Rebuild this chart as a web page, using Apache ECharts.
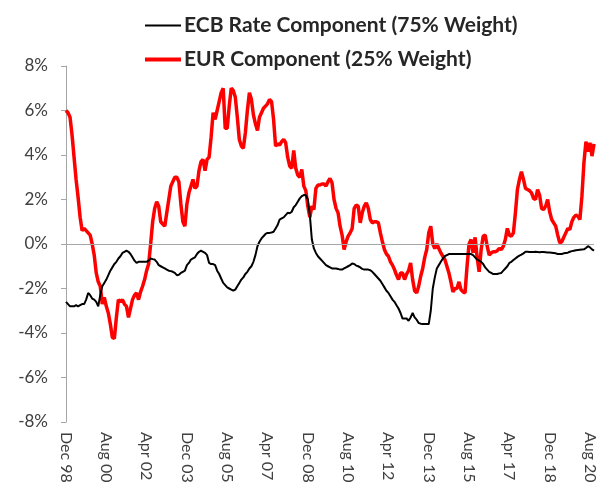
<!DOCTYPE html>
<html>
<head>
<meta charset="utf-8">
<script src="https://cdn.jsdelivr.net/npm/echarts@6/dist/echarts.min.js"></script>
<style>
  html, body { margin: 0; padding: 0; background: #fff; }
  #chart { width: 603px; height: 497px; }
</style>
</head>
<body>
<div id="chart"></div>
<script>
// monthly series, Dec 1998 .. Oct 2020 (values in %)
const seriesNames = ['ECB Rate Component (75% Weight)', 'EUR Component (25% Weight)']

const ecbRate = [
  -2.6, -2.7, -2.8, -2.8, -2.8, -2.75, -2.8, -2.75, -2.7, -2.7,
  -2.5, -2.2, -2.3, -2.45, -2.5, -2.6, -2.8, -2.3, -1.9, -1.75,
  -1.6, -1.4, -1.2, -1.05, -0.9, -0.8, -0.65, -0.55, -0.4, -0.35,
  -0.3, -0.35, -0.45, -0.6, -0.75, -0.85, -0.8, -0.8, -0.8, -0.8,
  -0.8, -0.75, -0.65, -0.68, -0.7, -0.8, -0.95, -1.0, -1.05, -1.1,
  -1.15, -1.2, -1.22, -1.25, -1.3, -1.4, -1.38, -1.3, -1.25, -1.2,
  -0.95, -0.85, -0.7, -0.65, -0.6, -0.45, -0.35, -0.3, -0.35, -0.4,
  -0.5, -0.85, -0.9, -0.9, -0.95, -1.2, -1.35, -1.55, -1.75, -1.85,
  -1.95, -2.0, -2.05, -2.1, -2.05, -1.9, -1.75, -1.6, -1.5, -1.35,
  -1.25, -1.1, -1.0, -0.8, -0.5, -0.1, 0.1, 0.25, 0.35, 0.45,
  0.5, 0.5, 0.52, 0.55, 0.7, 0.85, 1.1, 1.15, 1.2, 1.3,
  1.4, 1.38, 1.45, 1.65, 1.75, 1.9, 2.05, 2.15, 2.2, 2.2,
  2.0, 1.3, 0.2, -0.2, -0.4, -0.55, -0.65, -0.75, -0.85, -0.95,
  -1.0, -1.05, -1.1, -1.1, -1.1, -1.12, -1.15, -1.15, -1.1, -1.05,
  -1.0, -0.95, -0.88, -0.9, -0.97, -1.0, -1.05, -1.12, -1.15, -1.15,
  -1.15, -1.18, -1.25, -1.35, -1.45, -1.55, -1.65, -1.8, -1.95, -2.1,
  -2.2, -2.35, -2.5, -2.6, -2.75, -2.9, -3.1, -3.35, -3.35, -3.35,
  -3.45, -3.3, -3.1, -3.3, -3.4, -3.55, -3.58, -3.6, -3.6, -3.6,
  -3.6, -3.0, -2.0, -1.5, -1.1, -0.95, -0.8, -0.65, -0.55, -0.5,
  -0.45, -0.45, -0.45, -0.45, -0.45, -0.45, -0.45, -0.45, -0.45, -0.45,
  -0.45, -0.45, -0.5, -0.6, -0.7, -0.75, -0.8, -0.9, -1.05, -1.15,
  -1.25, -1.3, -1.35, -1.35, -1.35, -1.32, -1.3, -1.2, -1.1, -1.0,
  -0.85, -0.8, -0.72, -0.65, -0.58, -0.52, -0.48, -0.42, -0.35, -0.35,
  -0.36, -0.36, -0.36, -0.35, -0.36, -0.37, -0.36, -0.36, -0.37, -0.38,
  -0.38, -0.39, -0.4, -0.42, -0.45, -0.45, -0.45, -0.42, -0.4, -0.39,
  -0.35, -0.32, -0.3, -0.28, -0.27, -0.26, -0.25, -0.24, -0.18, -0.1,
  -0.15, -0.24, -0.3
]

const eurComp = [
  6.0, 5.9, 5.7, 4.9, 3.9, 2.9, 2.1, 1.2, 0.6, 0.7,
  0.6, 0.5, 0.4, 0.0, -0.5, -1.3, -1.7, -1.9, -2.7, -2.4,
  -2.8, -3.1, -3.6, -4.2, -4.25, -3.3, -2.5, -2.6, -2.5, -2.7,
  -2.8, -3.3, -2.9, -2.5, -2.3, -2.2, -2.5, -2.15, -1.9, -1.6,
  -1.2, -0.9, 0.0, 1.0, 1.6, 1.9, 1.7, 1.0, 0.9, 0.8,
  1.4, 2.0, 2.6, 2.8, 3.0, 3.0, 2.8, 1.8, 1.0, 0.8,
  1.8, 2.3, 2.6, 2.9, 2.5, 2.6, 3.3, 3.7, 3.8, 3.3,
  3.8, 3.9, 4.8, 5.9, 5.6, 6.0, 6.4, 6.8, 7.0, 5.2,
  5.2, 6.2, 7.0, 6.9, 6.6, 5.7, 4.7, 4.4, 4.3, 5.0,
  6.0, 6.8, 6.5, 5.8, 5.4, 5.1, 5.7, 5.9, 6.1, 6.2,
  6.3, 6.5, 6.4, 5.6, 4.4, 4.5, 4.45, 4.6, 4.7, 4.55,
  3.9, 3.5, 3.4, 4.2, 3.4, 3.1, 3.0, 3.35, 2.6, 2.4,
  1.7, 1.2, 1.7, 1.55, 2.5, 2.65, 2.65, 2.7, 2.7, 2.6,
  2.8, 2.95, 2.75, 2.0, 1.6, 1.4, 0.8, 0.4, -0.25, 0.1,
  0.35, 0.5, 0.7, 1.6, 1.75, 1.7, 0.95, 1.4, 1.7, 1.85,
  1.6, 1.1, 0.95, 1.0, 1.0, 0.95, 0.5, 0.1, -0.25, -0.45,
  -0.55, -0.8, -0.95, -1.15, -1.4, -1.6, -1.3, -1.3, -1.6, -1.35,
  -1.2, -0.85, -1.6, -2.1, -2.2, -1.9, -1.45, -1.1, -0.6, -0.25,
  0.5, 0.8, 0.0, -0.2, 0.0, -0.2, -0.4, -0.55, -0.7, -1.0,
  -1.3, -1.7, -2.15, -2.0, -2.0, -1.7, -2.05, -2.15, -2.2, -1.0,
  0.0, 0.2, -0.4, 0.3, -0.6, -1.25, -0.25, 0.35, 0.4, -0.1,
  -0.5, -0.4, -0.35, -0.35, -0.3, -0.2, -0.25, -0.1, 0.2, 0.7,
  0.4, 0.35, 0.5, 1.4, 2.45, 2.9, 3.25, 2.9, 2.5, 2.45,
  2.4, 2.3, 2.05, 2.0, 2.45, 2.2, 1.6, 1.55, 1.7, 2.0,
  1.45, 1.1, 0.95, 0.8, 0.4, 0.05, 0.1, 0.3, 0.5, 0.7,
  0.65, 1.0, 1.2, 1.3, 1.25, 1.1, 2.15, 3.65, 4.6, 4.15,
  4.55, 3.95, 4.5
]

const yTicks = { min: -8, max: 8, step: 2 }

// month labels "Dec 98" ...
const monthNames = ['Jan', 'Feb', 'Mar', 'Apr', 'May', 'Jun', 'Jul', 'Aug', 'Sep', 'Oct', 'Nov', 'Dec']
const months = []
for (let i = 0; i < ecbRate.length; i++) {
  const m = (11 + i) % 12
  const y = (1998 + Math.floor((11 + i) / 12)) % 100
  months.push(monthNames[m] + ' ' + String(y).padStart(2, '0'))
}

// legend line icons: thin black, thicker red (invisible end points keep the box height)
const thinIcon = 'path://M0,0L0.01,0ZM0,6H36V8H0ZM0,14L0.01,14Z'
const thickIcon = 'path://M0,0L0.01,0ZM0,5H36V9H0ZM0,14L0.01,14Z'

const chart = echarts.init(document.getElementById('chart'))

const option = {
  animation: false,
  backgroundColor: '#fff',
  textStyle: { fontFamily: 'Lato' },
  legend: {
    orient: 'vertical',
    left: 140,
    top: 9,
    itemGap: 11,
    itemWidth: 36,
    itemHeight: 14,
    data: [
      { name: seriesNames[0], icon: thinIcon },
      { name: seriesNames[1], icon: thickIcon }
    ],
    textStyle: { fontFamily: 'Lato', fontWeight: 'bold', fontSize: 21, lineHeight: 23, color: '#262626', padding: [0, 0, 0, -2] }
  },
  grid: { left: 66, right: 9, top: 66, bottom: 75 },
  xAxis: {
    type: 'category',
    data: months,
    boundaryGap: false,
    axisLine: { show: false },
    axisTick: { show: false },
    axisLabel: {
      interval: 19,
      rotate: -90,
      margin: 10,
      fontSize: 16,
      color: '#404040',
      fontFamily: 'Lato'
    },
    splitLine: { show: false }
  },
  yAxis: {
    type: 'value',
    min: yTicks.min,
    max: yTicks.max,
    interval: yTicks.step,
    axisLine: { show: true, lineStyle: { color: '#a6a6a6', width: 1 } },
    axisTick: { show: true, inside: false, length: 5, lineStyle: { color: '#a6a6a6' } },
    axisLabel: {
      formatter: v => v + '%',
      fontSize: 17,
      margin: 18,
      color: '#404040',
      fontFamily: 'Lato'
    },
    splitLine: { show: false }
  },
  series: [
    {
      name: 'zero',
      type: 'line',
      data: [],
      z: 1,
      silent: true,
      markLine: {
        silent: true,
        symbol: 'none',
        label: { show: false },
        lineStyle: { color: '#a6a6a6', width: 1, type: 'solid' },
        data: [{ yAxis: 0 }]
      }
    },
    {
      name: seriesNames[0],
      type: 'line',
      data: ecbRate,
      symbol: 'none',
      z: 3,
      lineStyle: { color: '#000000', width: 2 },
      itemStyle: { color: '#000000' }
    },
    {
      name: seriesNames[1],
      type: 'line',
      data: eurComp,
      symbol: 'none',
      z: 2,
      lineStyle: { color: '#ff0000', width: 3.5 },
      itemStyle: { color: '#ff0000' }
    }
  ]
}

chart.setOption(option)
</script>
</body>
</html>
